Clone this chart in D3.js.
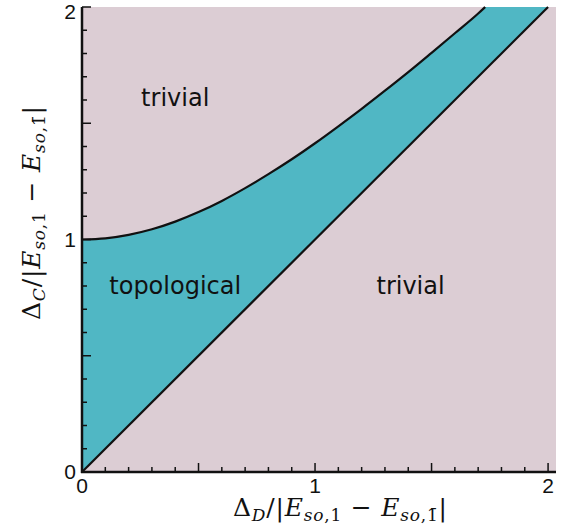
<!DOCTYPE html>
<html>
<head>
<meta charset="utf-8">
<script src="https://cdn.jsdelivr.net/npm/d3@7"></script>
<style>
  body { margin: 0; background: white; }
  .region-label { font-family: "DejaVu Sans", sans-serif; font-size: 24px; fill: #111; }
  .tick-label { font-family: "Liberation Sans", Arial, sans-serif; font-size: 21px; fill: #111; }
  .math { font-family: "DejaVu Serif", "Liberation Serif", serif; font-size: 25px; fill: #111; }
</style>
</head>
<body>
<script>
// phase boundary
var upperX = [0, 0.1, 0.2, 0.3, 0.4, 0.5, 0.6, 0.7, 0.8, 0.9, 1.0, 1.1, 1.2, 1.3, 1.4, 1.5, 1.6, 1.7, 1.73];
var upperY = [1.0, 1.005, 1.02, 1.044, 1.077, 1.118, 1.166, 1.221, 1.281, 1.345, 1.414, 1.487, 1.562, 1.640, 1.720, 1.803, 1.887, 1.972, 2.0];
var lowerX = [0, 2.0];
var lowerY = [0, 2.0];

var xTickLabels = [0, 1, 2];
var yTickLabels = [0, 1, 2];

var regions = [
  { name: "trivial", x: 0.4, y: 1.61 },
  { name: "topological", x: 0.4, y: 0.8 },
  { name: "trivial", x: 1.41, y: 0.8 }
];

var width = 567, height = 530;
var margin = { top: 7, right: 11, bottom: 58, left: 82 };

var x = d3.scaleLinear().domain([0, 2.034]).range([margin.left, width - margin.right]);
var y = d3.scaleLinear().domain([0, 2]).range([height - margin.bottom, margin.top]);

var svg = d3.select("body").append("svg")
  .attr("width", width)
  .attr("height", height);

// pink background = trivial
svg.append("rect")
  .attr("x", x(0))
  .attr("y", y(2))
  .attr("width", x(2.034) - x(0))
  .attr("height", y(0) - y(2))
  .style("fill", "#dccdd4");

var upper = upperX.map(function(d, i) { return [d, upperY[i]]; });
var lower = lowerX.map(function(d, i) { return [d, lowerY[i]]; });

var line = d3.line()
  .x(function(d) { return x(d[0]); })
  .y(function(d) { return y(d[1]); })
  .curve(d3.curveMonotoneX);

// teal band between the two boundaries
var poly = upper.concat([[2.0, 2.0]]).concat(lower.slice().reverse());
svg.append("path")
  .attr("d", d3.line().x(function(d) { return x(d[0]); }).y(function(d) { return y(d[1]); })(poly))
  .style("fill", "#50b7c4")
  .style("stroke", "none");

svg.append("path")
  .attr("d", line(upper))
  .style("fill", "none")
  .style("stroke", "#111")
  .style("stroke-width", 2.2);

svg.append("path")
  .attr("d", line(lower))
  .style("fill", "none")
  .style("stroke", "#111")
  .style("stroke-width", 2.2);

// axes, ticks pointing inward
var gx = svg.append("g").attr("transform", "translate(0," + y(0) + ")");
gx.selectAll("line.t")
  .data(d3.range(0, 21))
  .enter().append("line")
  .attr("x1", function(d) { return x(d / 10); })
  .attr("x2", function(d) { return x(d / 10); })
  .attr("y1", 0)
  .attr("y2", function(d) { return d % 5 === 0 ? -9 : -5; })
  .style("stroke", "#111").style("stroke-width", 1.5);
gx.append("line")
  .attr("x1", x(0) - 1).attr("x2", x(2.034))
  .style("stroke", "#111").style("stroke-width", 2.5);

var gy = svg.append("g").attr("transform", "translate(" + x(0) + ",0)");
gy.selectAll("line.t")
  .data(d3.range(0, 21))
  .enter().append("line")
  .attr("y1", function(d) { return y(d / 10); })
  .attr("y2", function(d) { return y(d / 10); })
  .attr("x1", 0)
  .attr("x2", function(d) { return d % 5 === 0 ? 9 : 5; })
  .style("stroke", "#111").style("stroke-width", 1.5);
gy.append("line")
  .attr("y1", y(0) + 1).attr("y2", y(2))
  .style("stroke", "#111").style("stroke-width", 2.5);

svg.selectAll(".xtl")
  .data(xTickLabels)
  .enter().append("text")
  .attr("class", "tick-label")
  .attr("x", function(d) { return x(d); })
  .attr("y", y(0) + 21)
  .attr("text-anchor", "middle")
  .text(function(d) { return d; });

svg.selectAll(".ytl")
  .data(yTickLabels)
  .enter().append("text")
  .attr("class", "tick-label")
  .attr("x", x(0) - 6)
  .attr("y", function(d) { return Math.max(y(d) + 7, 19); })
  .attr("text-anchor", "end")
  .text(function(d) { return d; });

svg.selectAll(".region")
  .data(regions)
  .enter().append("text")
  .attr("class", "region-label")
  .attr("x", function(d) { return x(d.x); })
  .attr("y", function(d) { return y(d.y); })
  .attr("text-anchor", "middle")
  .attr("dy", "0.35em")
  .text(function(d) { return d.name; });

// math labels
function mathLabel(g, sub) {
  var t = g.append("text").attr("class", "math").attr("text-anchor", "middle")
    .attr("textLength", 214).attr("lengthAdjust", "spacing");
  t.append("tspan").text("\u0394");
  t.append("tspan").attr("font-style", "italic").attr("font-size", 17).attr("dy", 5).text(sub);
  t.append("tspan").attr("dy", -5).text("/|");
  t.append("tspan").attr("font-style", "italic").text("E");
  t.append("tspan").attr("font-style", "italic").attr("font-size", 17).attr("dy", 5).text("so");
  t.append("tspan").attr("font-size", 17).text(",1");
  t.append("tspan").attr("dy", -5).text(" \u2212 ");
  t.append("tspan").attr("font-style", "italic").text("E");
  t.append("tspan").attr("font-style", "italic").attr("font-size", 17).attr("dy", 5).text("so");
  t.append("tspan").attr("font-size", 17).text(",1\u0304");
  t.append("tspan").attr("dy", -5).text("|");
  return t;
}

mathLabel(svg.append("g").attr("transform", "translate(" + 340 + "," + 516 + ")"), "D");
mathLabel(svg.append("g").attr("transform", "translate(" + 40 + "," + 213 + ") rotate(-90)"), "C");
</script>
</body>
</html>
